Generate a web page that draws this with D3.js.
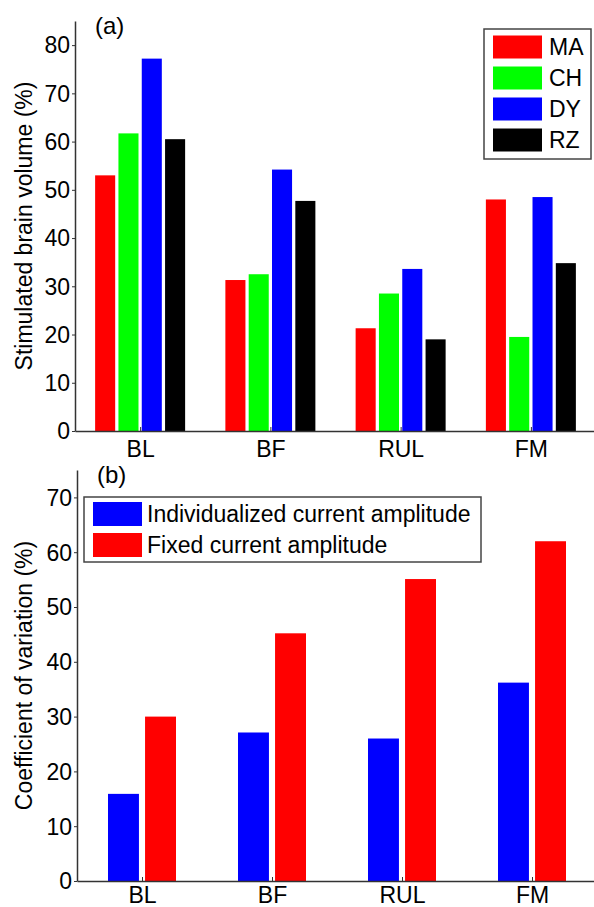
<!DOCTYPE html>
<html>
<head>
<meta charset="utf-8">
<script src="https://cdn.jsdelivr.net/npm/d3@7"></script>
<style>
  body { margin: 0; background: #fff; }
  svg text { font-family: "Liberation Sans", Arial, sans-serif; fill: #000; }
</style>
</head>
<body>
<div id="chart"></div>
<script>
// Data
const categories = ['BL', 'BF', 'RUL', 'FM']
const subjects = ['MA', 'CH', 'DY', 'RZ']
const subjectColors = ['#ff0000', '#00ff00', '#0000ff', '#000000']
const volumeMA = [53.0, 31.3, 21.3, 48.0]
const volumeCH = [61.7, 32.5, 28.5, 19.5]
const volumeDY = [77.2, 54.2, 33.6, 48.5]
const volumeRZ = [60.5, 47.7, 19.0, 34.8]
const volumeTicks = [0, 10, 20, 30, 40, 50, 60, 70, 80]

const methods = ['Individualized current amplitude', 'Fixed current amplitude']
const methodColors = ['#0000ff', '#ff0000']
const cvIndividual = [15.9, 27.1, 26.0, 36.2]
const cvFixed = [30.0, 45.2, 55.1, 62.0]
const cvTicks = [0, 10, 20, 30, 40, 50, 60, 70]

// Chart size
const width = 594
const height = 907
const fontSize = 23
const axisColor = '#333'

let svg = d3.select('#chart')
	.append('svg')
	.attr('width', width)
	.attr('height', height)

// Draws one panel: axes, bars and panel label
function drawPanel(opts) {
	let g = svg.append('g')

	let scaleX = d3.scaleLinear()
		.domain([0.5, 4.5])
		.range([opts.left, opts.right])
	let scaleY = d3.scaleLinear()
		.domain(opts.yDomain)
		.range([opts.bottom, opts.top])

	// Bars
	let n = opts.series.length
	opts.series.forEach((values, k) => {
		let offset = (k - (n - 1) / 2) * opts.step
		g.selectAll('rect.s' + k)
			.data(values)
			.enter()
			.append('rect')
			.attr('class', 's' + k)
			.attr('x', (d, i) => scaleX(i + 1 + offset - opts.barWidth / 2))
			.attr('width', scaleX(1 + opts.barWidth) - scaleX(1))
			.attr('y', (d) => scaleY(d))
			.attr('height', (d) => scaleY(0) - scaleY(d))
			.attr('fill', opts.colors[k])
	})

	// Y axis
	let yAxis = g.append('g')
		.attr('transform', 'translate(' + opts.left + ',0)')
		.call(d3.axisLeft(scaleY).tickValues(opts.yTicks).tickSizeOuter(0).tickSizeInner(3).tickPadding(2))
	yAxis.select('.domain').attr('stroke', axisColor).attr('stroke-width', 1.5)
	yAxis.selectAll('.tick line').attr('stroke', axisColor)
	yAxis.selectAll('.tick text')
		.style('font-size', fontSize + 'px')
		.attr('dy', '0.34em')

	// X axis
	let xAxis = g.append('g')
		.attr('transform', 'translate(0,' + opts.bottom + ')')
		.call(d3.axisBottom(scaleX).tickValues([1, 2, 3, 4]).tickFormat((d) => categories[d - 1]).tickSizeOuter(0).tickSizeInner(-4))
	xAxis.select('.domain').attr('stroke', axisColor).attr('stroke-width', 1.5)
	xAxis.selectAll('.tick line').attr('stroke', axisColor)
	xAxis.selectAll('.tick text')
		.style('font-size', fontSize + 'px')
		.attr('y', opts.xLabelBaseline)
		.attr('dy', 0)

	// Y label
	g.append('text')
		.attr('transform', 'translate(' + opts.yLabelX + ',' + (opts.top + opts.bottom) / 2 + ') rotate(-90)')
		.attr('text-anchor', 'middle')
		.style('font-size', fontSize + 'px')
		.text(opts.yLabel)

	// Panel label
	g.append('text')
		.attr('x', opts.left + 20)
		.attr('y', opts.top + 13)
		.style('font-size', '24px')
		.text(opts.panelLabel)

	// Legend
	let lg = g.append('g')
	lg.append('rect')
		.attr('x', opts.legend.x)
		.attr('y', opts.legend.y)
		.attr('width', opts.legend.w)
		.attr('height', opts.legend.h)
		.attr('fill', '#fff')
		.attr('stroke', '#444')
		.attr('stroke-width', 1.5)
	opts.legend.names.forEach((name, k) => {
		let rowY = opts.legend.y + opts.legend.pad + k * opts.legend.pitch
		lg.append('rect')
			.attr('x', opts.legend.x + 9)
			.attr('y', rowY)
			.attr('width', 49)
			.attr('height', opts.legend.swatchH)
			.attr('fill', opts.colors[k])
		lg.append('text')
			.attr('x', opts.legend.x + opts.legend.textX)
			.attr('y', rowY + opts.legend.swatchH / 2 + 8)
			.style('font-size', fontSize + 'px')
			.text(name)
	})
}

// Panel (a)
drawPanel({
	left: 75, right: 596, top: 21, bottom: 431,
	yDomain: [0, 85],
	yTicks: volumeTicks,
	series: [volumeMA, volumeCH, volumeDY, volumeRZ],
	colors: subjectColors,
	step: 0.179,
	barWidth: 0.154,
	xLabelBaseline: 26,
	yLabel: 'Stimulated brain volume (%)',
	yLabelX: 32,
	panelLabel: '(a)',
	legend: { x: 484, y: 29, w: 107, h: 130, pad: 6.5, pitch: 31, swatchH: 23, textX: 65, names: subjects }
})

// Panel (b)
drawPanel({
	left: 77, right: 597, top: 470, bottom: 881,
	yDomain: [0, 75],
	yTicks: cvTicks,
	series: [cvIndividual, cvFixed],
	colors: methodColors,
	step: 0.285,
	barWidth: 0.238,
	xLabelBaseline: 22,
	yLabel: 'Coefficient of variation (%)',
	yLabelX: 32,
	panelLabel: '(b)',
	legend: { x: 84, y: 497, w: 397, h: 65, pad: 5, pitch: 31, swatchH: 24, textX: 63, names: methods }
})
</script>
</body>
</html>
